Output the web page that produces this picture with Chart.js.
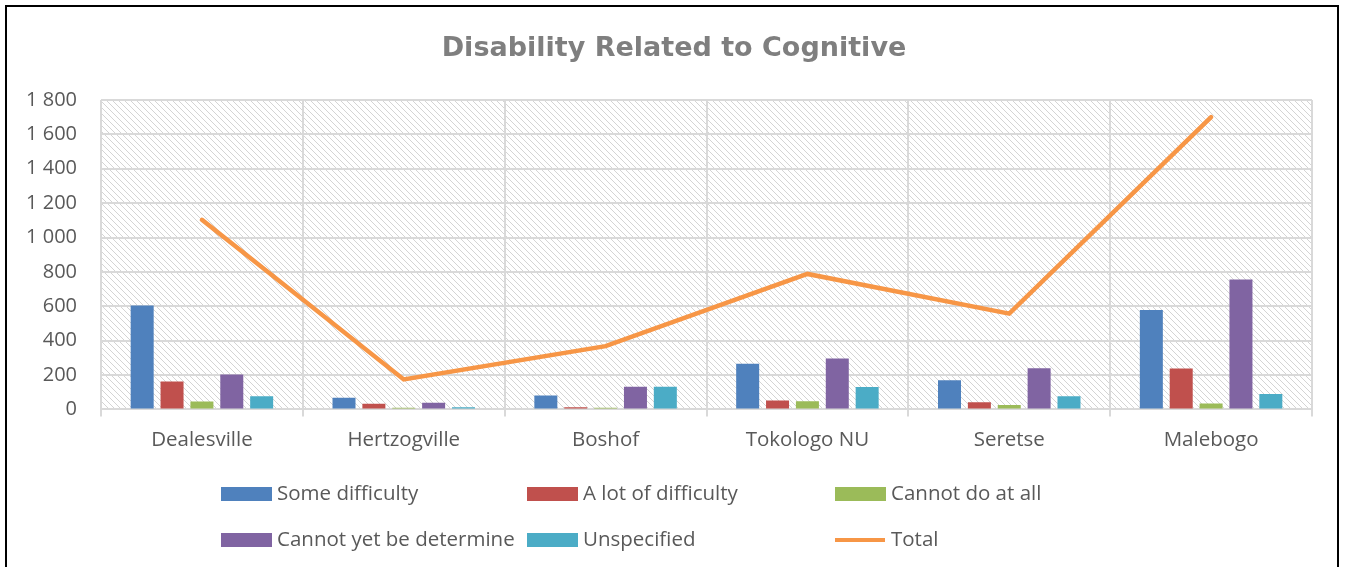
<!DOCTYPE html>
<html>
<head>
<meta charset="utf-8">
<script src="https://cdn.jsdelivr.net/npm/chart.js@4.4.1/dist/chart.umd.min.js"></script>
<style>
  html, body { margin: 0; padding: 0; background: #fff; }
  #wrap { position: relative; width: 1352px; height: 567px; overflow: hidden; }
  #frame { position: absolute; left: 5px; top: 5px; width: 1334px; height: 600px; border: 2px solid #000; box-sizing: border-box; pointer-events: none; }
  canvas { position: absolute; left: 0; top: 0; }
</style>
</head>
<body>
<div id="wrap">
  <canvas id="chart" width="1352" height="567"></canvas>
  <div id="frame"></div>
</div>
<script>
// ===== DATA =====
const categories = ['Dealesville', 'Hertzogville', 'Boshof', 'Tokologo NU', 'Seretse', 'Malebogo'];
const someDifficulty = [605, 68, 81, 265, 170, 579];
const lotOfDifficulty = [163, 33, 13, 52, 41, 238];
const cannotDoAtAll = [46, 10, 10, 48, 25, 35];
const cannotYetDetermine = [203, 39, 132, 296, 240, 755];
const unspecified = [77, 12, 132, 130, 77, 89];
const totals = [1103, 174, 368, 788, 557, 1700];
const yTicks = [0, 200, 400, 600, 800, 1000, 1200, 1400, 1600, 1800];

const TITLE = 'Disability Related to Cognitive';
const LABEL_FONT = "'Open Sans', sans-serif";
const TEXT_GREY = '#595959';
const GRID_GREY = '#d9d9d9';

// ===== HATCHED PLOT BACKGROUND =====
function makeHatch() {
    const c = document.createElement('canvas');
    c.width = 6; c.height = 6;
    const g = c.getContext('2d');
    g.fillStyle = '#ffffff';
    g.fillRect(0, 0, 6, 6);
    g.fillStyle = '#d4d4d4';
    for (let i = 0; i < 6; i++) g.fillRect(i, i, 1, 1);
    return c;
}

const hatchPlugin = {
    id: 'hatch',
    beforeDraw(chart) {
        const { ctx, chartArea: a } = chart;
        ctx.save();
        ctx.fillStyle = ctx.createPattern(makeHatch(), 'repeat');
        ctx.fillRect(a.left, a.top, a.right - a.left, a.bottom - a.top);
        ctx.restore();
    }
};

// title drawn by hand so it centres on the whole frame
const titlePlugin = {
    id: 'frameTitle',
    afterDraw(chart) {
        const ctx = chart.ctx;
        ctx.save();
        ctx.font = "bold 27px 'DejaVu Sans', sans-serif";
        ctx.fillStyle = '#7f7f7f';
        ctx.textAlign = 'center';
        ctx.textBaseline = 'middle';
        ctx.fillText(TITLE, 674, 49);
        ctx.restore();
    }
};

// legend laid out in a fixed 3-column grid like the original
const gridLegend = {
    id: 'gridLegend',
    afterDraw(chart) {
        const ctx = chart.ctx;
        const cols = [221, 527, 835];
        const rows = [494, 540];
        ctx.save();
        ctx.font = '20.5px ' + LABEL_FONT;
        ctx.textBaseline = 'middle';
        chart.data.datasets.forEach((ds, i) => {
            const x = cols[i % 3];
            const y = rows[Math.floor(i / 3)];
            if (ds.type === 'line') {
                ctx.fillStyle = ds.borderColor;
                ctx.fillRect(x, y - 2, 50, 4);
            } else {
                ctx.fillStyle = ds.backgroundColor;
                ctx.fillRect(x, y - 7, 51, 14);
            }
            ctx.fillStyle = TEXT_GREY;
            ctx.fillText(ds.label, x + 56, y);
        });
        ctx.restore();
    }
};

function barSet(label, data, color) {
    return {
        type: 'bar',
        label: label,
        data: data,
        backgroundColor: color,
        borderWidth: 0,
        categoryPercentage: 0.74,
        barPercentage: 0.77,
        order: 2
    };
}

const ctx = document.getElementById('chart');
new Chart(ctx, {
    data: {
        labels: categories,
        datasets: [
            barSet('Some difficulty', someDifficulty, '#4f81bd'),
            barSet('A lot of difficulty', lotOfDifficulty, '#c0504d'),
            barSet('Cannot do at all', cannotDoAtAll, '#9bbb59'),
            barSet('Cannot yet be determine', cannotYetDetermine, '#8064a2'),
            barSet('Unspecified', unspecified, '#4bacc6'),
            {
                type: 'line',
                label: 'Total',
                data: totals,
                borderColor: '#f79646',
                backgroundColor: '#f79646',
                borderWidth: 4.5,
                pointRadius: 0,
                tension: 0,
                borderCapStyle: 'round',
                order: 1
            }
        ]
    },
    options: {
        responsive: false,
        animation: false,
        layout: { padding: { left: 0, right: 40, top: 100, bottom: 104 } },
        plugins: {
            legend: { display: false },
            tooltip: { enabled: false },
            title: { display: false }
        },
        scales: {
            x: {
                grid: { color: GRID_GREY, lineWidth: 2, tickLength: 7, offset: true },
                border: { color: GRID_GREY, width: 2 },
                ticks: {
                    color: TEXT_GREY,
                    font: { family: LABEL_FONT, size: 20.5 },
                    padding: 11
                }
            },
            y: {
                min: 0,
                max: 1800,
                afterBuildTicks(s) { s.ticks = yTicks.map(v => ({ value: v })); },
                afterFit(s) { s.width = 101; },
                grid: { color: GRID_GREY, lineWidth: 2, drawTicks: false },
                border: { display: false },
                ticks: {
                    color: TEXT_GREY,
                    font: { family: LABEL_FONT, size: 20 },
                    padding: 24,
                    callback: v => String(v).replace(/\B(?=(\d{3})+(?!\d))/g, ' ')
                }
            }
        }
    },
    plugins: [hatchPlugin, titlePlugin, gridLegend]
});
</script>
</body>
</html>
